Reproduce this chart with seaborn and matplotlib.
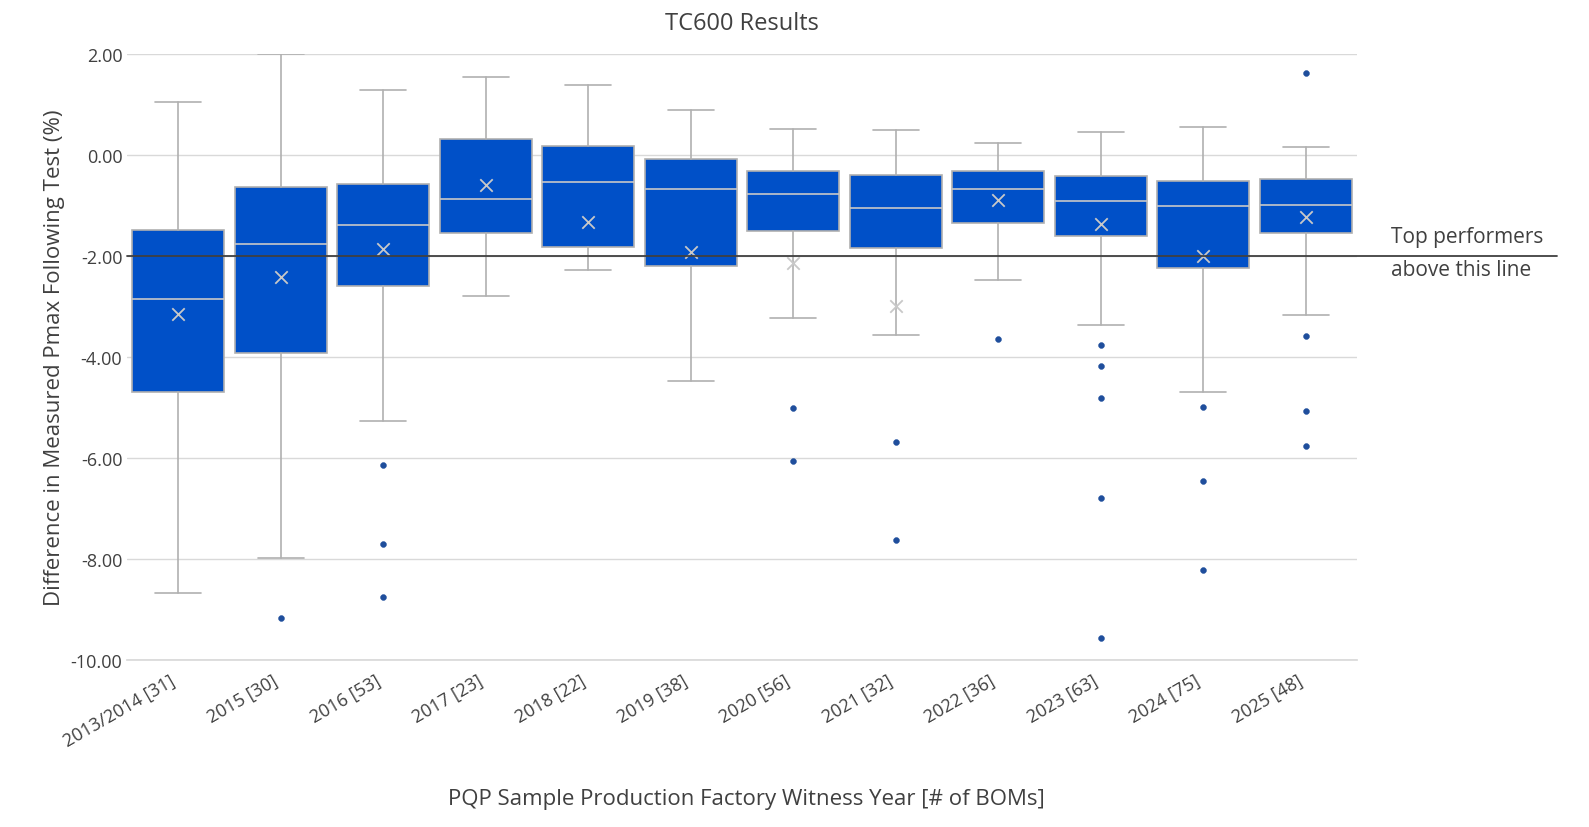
import matplotlib
matplotlib.use("Agg")
import matplotlib.pyplot as plt
import seaborn as sns
import numpy as np

categories = ["2013/2014 [31]", "2015 [30]", "2016 [53]", "2017 [23]", "2018 [22]", "2019 [38]",
              "2020 [56]", "2021 [32]", "2022 [36]", "2023 [63]", "2024 [75]", "2025 [48]"]
whis_hi = [1.05, 2.00, 1.29, 1.54, 1.37, 0.89, 0.51, 0.48, 0.24, 0.44, 0.55, 0.16]
q3 = [-1.49, -0.65, -0.59, 0.32, 0.18, -0.08, -0.32, -0.40, -0.32, -0.42, -0.53, -0.48]
median = [-2.85, -1.76, -1.39, -0.87, -0.55, -0.67, -0.77, -1.05, -0.67, -0.91, -1.01, -0.99]
q1 = [-4.69, -3.92, -2.61, -1.56, -1.82, -2.20, -1.52, -1.84, -1.35, -1.62, -2.24, -1.56]
whis_lo = [-8.67, -7.98, -5.27, -2.79, -2.28, -4.48, -3.23, -3.58, -2.48, -3.37, -4.69, -3.17]
means = [-3.15, -2.42, -1.86, -0.61, -1.33, -1.92, -2.14, -2.99, -0.89, -1.37, -2.00, -1.23]
outliers = [[], [-9.17], [-6.14, -7.70, -8.75], [], [], [], [-5.01, -6.06], [-5.68, -7.62],
            [-3.64], [-3.76, -4.18, -4.81, -6.79, -9.56], [-4.99, -6.46, -8.22],
            [1.62, -3.60, -5.07, -5.76]]

sns.set_theme(style="whitegrid")
plt.rcParams['font.family'] = ['Open Sans', 'DejaVu Sans']

fig = plt.figure(figsize=(15.89, 8.28), dpi=100)
ax = fig.add_axes([0.08, 0.202, 0.774, 0.732])

box_color = "#0050C8"
edge = "#B0B0B0"
stats = []
for i, c in enumerate(categories):
    stats.append(dict(label=c, whishi=whis_hi[i], q3=q3[i], med=median[i], q1=q1[i],
                      whislo=whis_lo[i], mean=means[i], fliers=[]))
pos = np.arange(len(categories))
ax.bxp(stats, positions=pos, widths=0.9, patch_artist=True, showmeans=False, showfliers=False,
       boxprops=dict(facecolor=box_color, edgecolor=edge, linewidth=1.2),
       medianprops=dict(color="#C8C8C8", linewidth=1.2),
       whiskerprops=dict(color=edge, linewidth=1.2),
       capprops=dict(color=edge, linewidth=1.2))

sns.scatterplot(x=pos, y=means, marker="x", s=80, color="#C8C8C8", linewidth=1.3, ax=ax, zorder=5)
ox = [i for i, o in enumerate(outliers) for _ in o]
oy = [v for o in outliers for v in o]
sns.scatterplot(x=ox, y=oy, s=18, color="#1F4E9C", edgecolor="#1F4E9C", ax=ax, zorder=5)

ax.set_xlim(-0.5, len(categories) - 0.5)
ax.set_ylim(-10, 2)
ax.set_yticks(np.arange(-10, 2.01, 2))
ax.set_yticklabels([f"{v:.2f}" for v in np.arange(-10, 2.01, 2)], fontsize=13, color="#404040")
ax.set_xticks(pos)
ax.set_xticklabels(categories, rotation=30, ha="right", fontsize=13, color="#404040")
ax.tick_params(axis="x", pad=8)
ax.grid(axis="x", visible=False)
ax.grid(axis="y", color="#D9D9D9", linewidth=1)
for s in ["top", "right", "left"]:
    ax.spines[s].set_visible(False)
ax.spines["bottom"].set_color("#D9D9D9")
ax.tick_params(axis="both", length=0)

ax.axhline(-2, xmin=0, xmax=1.163, color="#404040", linewidth=1.3, clip_on=False, zorder=6)
ax.text(1.028, -1.63, "Top performers", transform=ax.get_yaxis_transform(), fontsize=15, color="#404040", va="center")
ax.text(1.028, -2.28, "above this line", transform=ax.get_yaxis_transform(), fontsize=15, color="#404040", va="center")

ax.set_title("TC600 Results", fontsize=17, color="#404040", pad=18)
ax.set_ylabel("Difference in Measured Pmax Following Test (%)", fontsize=16, color="#404040")
fig.text(0.47, 0.028, "PQP Sample Production Factory Witness Year [# of BOMs]", fontsize=16,
         color="#404040", ha="center")

fig.savefig("out.png", dpi=100)
